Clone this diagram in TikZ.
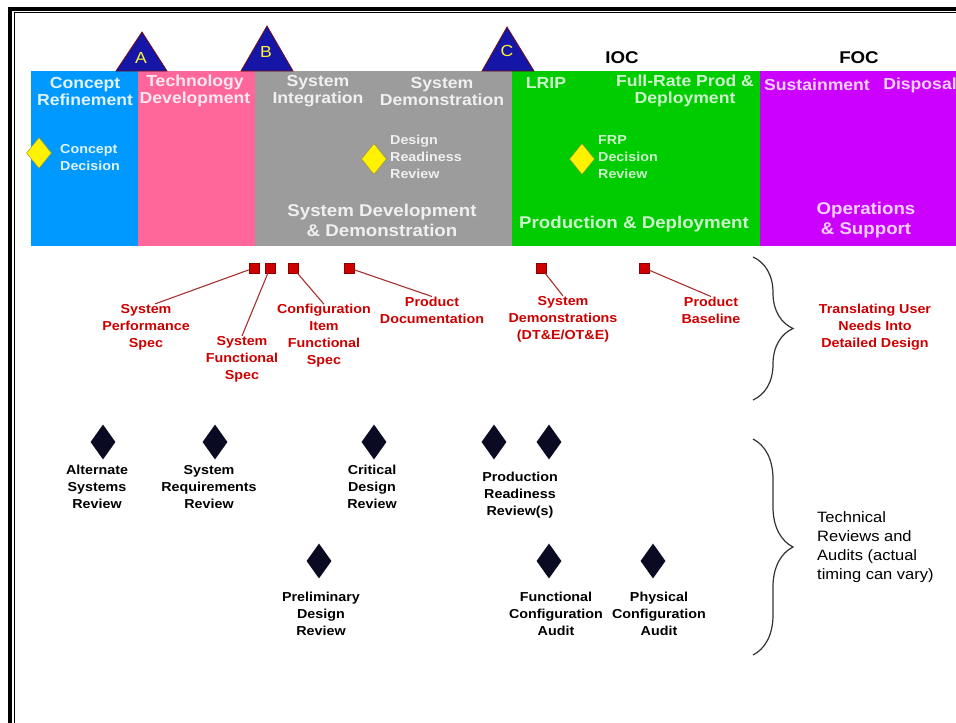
\documentclass[tikz,border=0pt]{standalone}
\usepackage{fontspec}
\setmainfont[FakeStretch=1.1]{Liberation Sans}
\usetikzlibrary{shapes.geometric,decorations.pathreplacing}
\definecolor{crblue}{HTML}{0099FF}
\definecolor{tdpink}{HTML}{FF6699}
\definecolor{sddgray}{HTML}{9C9C9C}
\definecolor{pdgreen}{HTML}{00CC00}
\definecolor{ospurple}{HTML}{CC00FF}
\definecolor{msblue}{HTML}{1515A8}
\definecolor{msedge}{HTML}{701010}
\definecolor{specred}{HTML}{CC0000}
\definecolor{specline}{HTML}{A83030}
\definecolor{revnavy}{HTML}{0A0A22}
\begin{document}
\begin{tikzpicture}[x=1pt,y=-1pt,
  hd/.style={font=\fontsize{16}{17}\selectfont\bfseries,align=center,inner sep=0pt},
  big/.style={font=\fontsize{17}{20}\selectfont\bfseries,align=center,inner sep=0pt},
  lab/.style={font=\fontsize{13}{17}\selectfont\bfseries,align=center,inner sep=0pt},
  note/.style={font=\fontsize{13}{17}\selectfont\bfseries,align=left,anchor=west,inner sep=0pt},
  ydia/.style={diamond,fill=yellow,draw=olive!60!gray,thin,minimum width=25,minimum height=31,inner sep=0pt},
  bdia/.style={diamond,fill=revnavy,minimum width=25,minimum height=35,inner sep=0pt},
  sq/.style={fill=specred,draw=specred!70!black,line width=.5,minimum size=10,inner sep=0pt},
  spec/.style={lab,text=specred},
  rev/.style={lab,text=black},
  tie/.style={specline,line width=1.1},
  brc/.style={decorate,decoration={brace,amplitude=40},draw=black!80,line width=1.2},
  ms/.style={fill=msblue,draw=msedge,line width=.8},
  msl/.style={text=yellow!80!white,font=\fontsize{16}{16}\selectfont,inner sep=0pt}]
\useasboundingbox (0,0) rectangle (956,723);
\fill[white] (0,0) rectangle (956,723);
% frame
\draw[line width=4] (10,723)--(10,8.5)--(956,8.5);
\draw[line width=1] (14,723)--(14,12.5)--(956,12.5);
% phases
\fill[crblue] (31,71) rectangle (138,246);
\fill[tdpink] (138,71) rectangle (255,246);
\fill[sddgray] (255,71) rectangle (512,246);
\fill[pdgreen] (512,71) rectangle (760,246);
\fill[ospurple] (760,71) rectangle (956,246);
% milestones
\filldraw[ms] (116,71)--(142,32)--(167,71)--cycle;
\node[msl] (msA) at (141,58) {A};
\filldraw[ms] (241,71)--(267,26)--(293,71)--cycle;
\node[msl] (msB) at (266,52) {B};
\filldraw[ms] (482,71)--(507,27)--(534,71)--cycle;
\node[msl] (msC) at (507,51) {C};
\node[hd,font=\fontsize{17}{17}\selectfont\bfseries,text=black] (ioc) at (622,58) {IOC};
\node[hd,font=\fontsize{17}{17}\selectfont\bfseries,text=black] (foc) at (859,58) {FOC};
% phase headers
\node[hd,text=crblue!12!white] (cr) at (85,91) {Concept\\Refinement};
\node[hd,text=tdpink!15!white] (td) at (195,91) {Technology\\Development};
\node[hd,text=black!6] (si) at (318,91) {System\\Integration};
\node[hd,text=black!6] (sd) at (442,91) {System\\Demonstration};
\node[hd,text=pdgreen!20!white] (lrip) at (546,83) {LRIP};
\node[hd,text=pdgreen!20!white] (frp) at (685,91) {Full-Rate Prod \&\\Deployment};
\node[hd,text=ospurple!18!white] (sus) at (817,85) {Sustainment};
\node[hd,text=ospurple!18!white] (disp) at (920,85) {Disposal};
\node[big,text=black!6] (sdd) at (382,220) {System Development\\\& Demonstration};
\node[big,text=pdgreen!20!white] (pd) at (634,224) {Production \& Deployment};
\node[big,text=ospurple!18!white] (os) at (866,220) {Operations\\\& Support};
% decision points
\node[ydia] (cd) at (39,153) {};
\node[note,text=crblue!12!white] (cdt) at (60,158) {Concept\\Decision};
\node[ydia] (drr) at (374,159) {};
\node[note,text=black!6] (drrt) at (390,157) {Design\\Readiness\\Review};
\node[ydia] (frpd) at (582,159) {};
\node[note,text=pdgreen!20!white] (frpdt) at (598,157) {FRP\\Decision\\Review};
% specs and baselines
\foreach \n/\x in {1/254,2/270,3/293,4/349,5/541,6/644}
  \node[sq] (sq\n) at (\x,268) {};
\node[spec] (perf) at (146,327) {System\\Performance\\Spec};
\node[spec] (sfs) at (242,359) {System\\Functional\\Spec};
\node[spec] (cifs) at (324,336) {Configuration\\Item\\Functional\\Spec};
\node[spec] (pdoc) at (432,310) {Product\\Documentation};
\node[spec] (sdem) at (563,319) {System\\Demonstrations\\(DT\&E/OT\&E)};
\node[spec] (pbl) at (711,310) {Product\\Baseline};
\draw[tie] (sq1) -- ([xshift=9]perf.north);
\draw[tie] (sq2) -- (sfs.north);
\draw[tie] (sq3) -- (cifs.north);
\draw[tie] (sq4) -- (pdoc.north);
\draw[tie] (sq5) -- (sdem.north);
\draw[tie] (sq6) -- (pbl.north);
\coordinate (b1top) at (753,257);
\coordinate (b1bot) at (753,400);
\draw[brc] (b1top) -- (b1bot);
\node[spec] (tud) at (875,327) {Translating User\\Needs Into\\Detailed Design};
% reviews and audits
\node[bdia] (asr) at (103,442) {};
\node[rev] (asrt) at (97,487) {Alternate\\Systems\\Review};
\node[bdia] (srr) at (215,442) {};
\node[rev] (srrt) at (209,487) {System\\Requirements\\Review};
\node[bdia] (cdr) at (374,442) {};
\node[rev] (cdrt) at (372,487) {Critical\\Design\\Review};
\node[bdia] (prr1) at (494,442) {};
\node[bdia] (prr2) at (549,442) {};
\node[rev] (prrt) at (520,495) {Production\\Readiness\\Review(s)};
\node[bdia] (pdr) at (319,561) {};
\node[rev] (pdrt) at (321,614) {Preliminary\\Design\\Review};
\node[bdia] (fca) at (549,561) {};
\node[rev] (fcat) at (556,614) {Functional\\Configuration\\Audit};
\node[bdia] (pca) at (653,561) {};
\node[rev] (pcat) at (659,614) {Physical\\Configuration\\Audit};
\coordinate (b2top) at (753,439);
\coordinate (b2bot) at (753,655);
\draw[brc] (b2top) -- (b2bot);
\node[font=\fontsize{15}{19}\selectfont,align=left,anchor=west,inner sep=0pt] (tra) at (817,547) {Technical\\Reviews and\\Audits (actual\\timing can vary)};
\end{tikzpicture}
\end{document}
